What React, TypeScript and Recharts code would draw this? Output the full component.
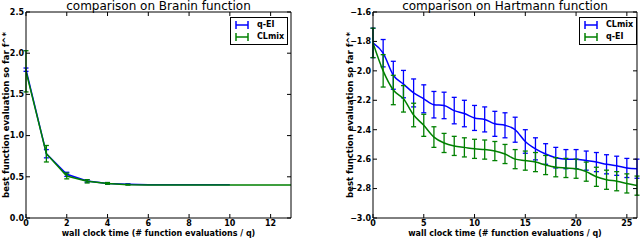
import { ComposedChart, Line, XAxis, YAxis, ErrorBar, Legend, Label } from 'recharts';

// Branin: best value so far per wall clock step (x = 0, 1, 2, ...)
const braninQei = [1.8, 0.78, 0.53, 0.45, 0.42, 0.41, 0.405, 0.405, 0.405, 0.405, 0.405];
const braninQeiErr = [0.02, 0.05, 0.025, 0.015, 0.01, 0.005, 0, 0, 0, 0, 0];
const braninClmix = [1.78, 0.78, 0.51, 0.445, 0.42, 0.405, 0.4, 0.4, 0.4, 0.4, 0.4, 0.4, 0.4, 0.4];
const braninClmixErr = [0.25, 0.1, 0.035, 0.02, 0.01, 0.005, 0, 0, 0, 0, 0, 0, 0, 0];
const braninXTicks = [0, 2, 4, 6, 8, 10, 12];
const braninYTicks = [0, 0.5, 1.0, 1.5, 2.0, 2.5];

// Hartmann
const hartClmix = [
  -1.81, -1.88, -2.03, -2.09, -2.15, -2.19, -2.23, -2.235, -2.27, -2.29, -2.32, -2.33, -2.36, -2.37,
  -2.4, -2.48, -2.53, -2.565, -2.59, -2.6, -2.6, -2.61, -2.62, -2.635, -2.645, -2.66, -2.665,
];
const hartClmixErr = [
  0.1, 0.093, 0.095, 0.093, 0.095, 0.095, 0.09, 0.09, 0.09, 0.09, 0.085, 0.085, 0.085, 0.085,
  0.085, 0.08, 0.075, 0.07, 0.07, 0.065, 0.065, 0.065, 0.065, 0.065, 0.065, 0.065, 0.065,
];
const hartQei = [
  -1.81, -2.0, -2.13, -2.19, -2.3, -2.37, -2.45, -2.49, -2.51, -2.52, -2.53, -2.535, -2.545, -2.565,
  -2.6, -2.61, -2.62, -2.64, -2.655, -2.66, -2.665, -2.685, -2.72, -2.74, -2.75, -2.765, -2.78,
];
const hartQeiErr = [
  0.1, 0.11, 0.1, 0.09, 0.08, 0.075, 0.07, 0.065, 0.065, 0.065, 0.065, 0.065, 0.065, 0.065,
  0.065, 0.065, 0.065, 0.065, 0.065, 0.065, 0.065, 0.065, 0.065, 0.065, 0.065, 0.065, 0.065,
];
const hartXTicks = [0, 5, 10, 15, 20, 25];
const hartYTicks = [-3.0, -2.8, -2.6, -2.4, -2.2, -2.0, -1.8, -1.6];

const BLUE = '#0000ff';
const GREEN = '#008000';
const FONT = '"DejaVu Sans", sans-serif';

const toRows = (vals: number[], errs: number[]) => vals.map((v, i) => ({ x: i, y: v, err: errs[i] }));

const fmtY = (v: number) => v.toFixed(1).replace('-', '\u2212');
const tickStyle = { fontSize: 8, fontWeight: 'bold', fill: '#000', fontFamily: FONT };
const noTick = () => <g />;

function LegendBox({ items }: { items: { name: string; color: string }[] }) {
  return (
    <div
      style={{
        border: '1px solid #000',
        background: '#fff',
        width: 52,
        padding: '1px 0 1px 4px',
        fontFamily: FONT,
        fontSize: 8,
        fontWeight: 'bold',
        lineHeight: '12px',
      }}
    >
      {items.map((it) => (
        <div key={it.name} style={{ display: 'flex', alignItems: 'center', height: 12 }}>
          <svg width={14} height={10} style={{ marginRight: 8 }}>
            <line x1={1} y1={1} x2={1} y2={9} stroke={it.color} strokeWidth={1.5} />
            <line x1={13} y1={1} x2={13} y2={9} stroke={it.color} strokeWidth={1.5} />
            <line x1={1} y1={5} x2={13} y2={5} stroke={it.color} strokeWidth={1.5} />
          </svg>
          <span>{it.name}</span>
        </div>
      ))}
    </div>
  );
}

const textLabel = (x: number, y: number, text: string, size: number, bold: boolean, rotate = false) => () => (
  <text
    x={x}
    y={y}
    textAnchor="middle"
    dominantBaseline={rotate ? 'central' : 'auto'}
    transform={rotate ? `rotate(-90 ${x} ${y})` : undefined}
    style={{ fontFamily: FONT, fontSize: size, fontWeight: bold ? 'bold' : 'normal', fill: '#000' }}
  >
    {text}
  </text>
);

interface PanelProps {
  title: string;
  series: { name: string; color: string; vals: number[]; errs: number[]; smooth: boolean }[];
  xDomain: [number, number];
  yDomain: [number, number];
  xTicks: number[];
  yTicks: number[];
  yAxisWidth: number;
  right: number;
  legendLeft: number;
  yLabelX: number;
}

function Panel({ title, series, xDomain, yDomain, xTicks, yTicks, yAxisWidth, right, legendLeft, yLabelX }: PanelProps) {
  const plotLeft = yAxisWidth;
  const plotRight = 320 - right;
  const cx = (plotLeft + plotRight) / 2;
  return (
    <ComposedChart width={320} height={240} margin={{ top: 11, right: right - 1, bottom: 0, left: 0 }}>
      <XAxis
        type="number"
        dataKey="x"
        domain={xDomain}
        ticks={xTicks}
        interval={0}
        allowDataOverflow
        height={22}
        tickSize={-4}
        tickMargin={6}
        tick={tickStyle}
        axisLine={{ stroke: '#000' }}
        tickLine={{ stroke: '#000' }}
      >
        <Label content={textLabel(cx, 236, 'wall clock time (# function evaluations / q)', 8, true)} />
      </XAxis>
      <XAxis
        xAxisId="top"
        orientation="top"
        type="number"
        dataKey="x"
        domain={xDomain}
        ticks={xTicks}
        interval={0}
        allowDataOverflow
        height={1}
        tickSize={-4}
        tick={noTick}
        axisLine={{ stroke: '#000' }}
        tickLine={{ stroke: '#000' }}
      />
      <YAxis
        type="number"
        domain={yDomain}
        ticks={yTicks}
        interval={0}
        allowDataOverflow
        width={yAxisWidth}
        tickSize={-4}
        tickMargin={6}
        tick={tickStyle}
        tickFormatter={fmtY}
        axisLine={{ stroke: '#000' }}
        tickLine={{ stroke: '#000' }}
      >
        <Label content={textLabel(yLabelX, 115, 'best function evaluation so far f^*', 8.5, true, true)} />
        <Label content={textLabel(cx, 10, title, 12, false)} />
      </YAxis>
      <YAxis
        yAxisId="right"
        orientation="right"
        type="number"
        domain={yDomain}
        ticks={yTicks}
        interval={0}
        allowDataOverflow
        width={1}
        tickSize={-4}
        tick={noTick}
        axisLine={{ stroke: '#000' }}
        tickLine={{ stroke: '#000' }}
      />
      {/* invisible series so the top and right frame axes get drawn */}
      <Line
        xAxisId="top"
        yAxisId="right"
        data={toRows(series[0].vals, series[0].errs)}
        dataKey="y"
        stroke="none"
        dot={false}
        legendType="none"
        isAnimationActive={false}
      />
      {series.map((s) => (
        <Line
          key={s.name}
          data={toRows(s.vals, s.errs)}
          dataKey="y"
          type={s.smooth ? 'monotone' : 'linear'}
          stroke={s.color}
          strokeWidth={1.5}
          dot={false}
          isAnimationActive={false}
        >
          <ErrorBar dataKey="err" direction="y" width={2.5} stroke={s.color} strokeWidth={1.3} />
        </Line>
      ))}
      <Legend
        layout="vertical"
        align="center"
        verticalAlign="middle"
        wrapperStyle={{ left: legendLeft, top: 17, width: 'auto', height: 'auto' }}
        content={() => <LegendBox items={series.map((s) => ({ name: s.name, color: s.color }))} />}
      />
    </ComposedChart>
  );
}

export default function App() {
  return (
    <div style={{ position: 'absolute', left: 0, top: 0, width: 640, height: 240, background: '#fff', display: 'flex' }}>
      <Panel
        title="comparison on Branin function"
        series={[
          { name: 'q-EI', color: BLUE, vals: braninQei, errs: braninQeiErr, smooth: false },
          { name: 'CLmix', color: GREEN, vals: braninClmix, errs: braninClmixErr, smooth: false },
        ]}
        xDomain={[0, 13]}
        yDomain={[0, 2.5]}
        xTicks={braninXTicks}
        yTicks={braninYTicks}
        yAxisWidth={26}
        right={29}
        legendLeft={230}
        yLabelX={6}
      />
      <Panel
        title="comparison on Hartmann function"
        series={[
          { name: 'CLmix', color: BLUE, vals: hartClmix, errs: hartClmixErr, smooth: true },
          { name: 'q-EI', color: GREEN, vals: hartQei, errs: hartQeiErr, smooth: true },
        ]}
        xDomain={[0, 26]}
        yDomain={[-3.0, -1.6]}
        xTicks={hartXTicks}
        yTicks={hartYTicks}
        yAxisWidth={53}
        right={3}
        legendLeft={259}
        yLabelX={30}
      />
    </div>
  );
}
